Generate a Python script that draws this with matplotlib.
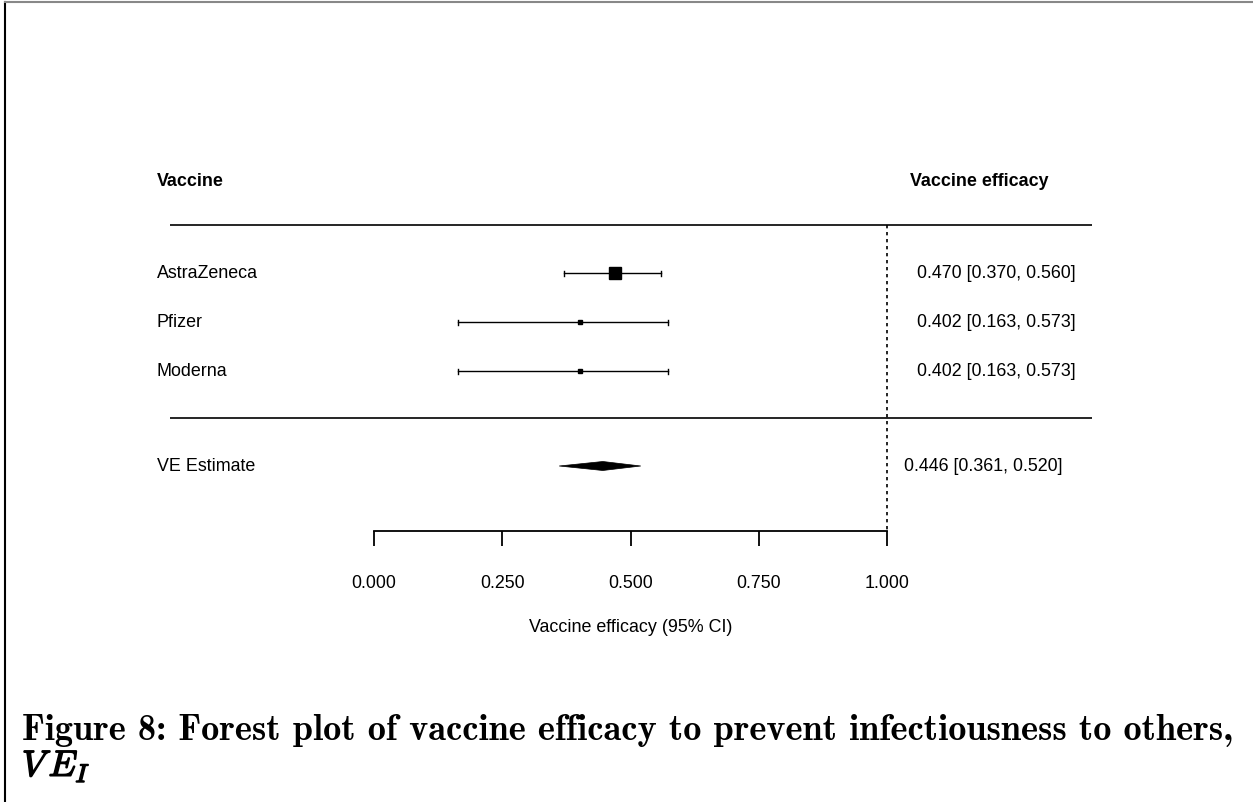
import matplotlib
matplotlib.use("Agg")
import matplotlib.pyplot as plt
from matplotlib.lines import Line2D
from matplotlib.patches import Polygon
import matplotlib.patheffects as pe

# ---- data ----
vaccines = ["AstraZeneca", "Pfizer", "Moderna"]
estimates = [0.470, 0.402, 0.402]
ci_low = [0.370, 0.163, 0.163]
ci_high = [0.560, 0.573, 0.573]
marker_sizes = [8.6, 3.0, 3.0]
pooled_label = "VE Estimate"
pooled_est = 0.446
pooled_low = 0.361
pooled_high = 0.520
tick_values = [0.0, 0.25, 0.5, 0.75, 1.0]
header_left = "Vaccine"
header_right = "Vaccine efficacy"
xlabel = "Vaccine efficacy (95% CI)"
caption1 = "Figure 8: Forest plot of vaccine efficacy to prevent infectiousness to others,"

W, H = 1253, 803
fig = plt.figure(figsize=(W / 100, H / 100), dpi=100)
ax = fig.add_axes([0, 0, 1, 1])

# x scale: 0 -> 374 px, 1 -> 887 px
px0, px1 = 374.0, 887.0
ppu = px1 - px0
ax.set_xlim(-px0 / ppu, (W - px0) / ppu)
ax.set_ylim(H, 0)

def X(px):
    return (px - px0) / ppu

FONT = "Liberation Sans"
FS = 12.9

row_y = [274, 323, 372]
y_pool = 467
y_head = 181
y_line1, y_line2 = 226, 419
y_axis = 532

# header
ax.text(X(157), y_head, header_left, fontsize=FS, fontweight="bold", family=FONT,
        ha="left", va="center")
ax.text(X(979), y_head, header_right, fontsize=FS, fontweight="bold", family=FONT,
        ha="center", va="center")

# separator lines
for yl in (y_line1, y_line2):
    ax.plot([X(170), X(1092)], [yl, yl], color="black", lw=1.2, solid_capstyle="butt")

# reference dotted line at 1
ax.plot([1.0, 1.0], [y_line1, y_axis], color="black", lw=1.2, linestyle=(0, (2, 2.2)))

# studies
for name, e, lo, hi, ms, y in zip(vaccines, estimates, ci_low, ci_high, marker_sizes, row_y):
    ax.plot([lo, hi], [y, y], color="black", lw=1.0)
    for xe in (lo, hi):
        ax.plot([xe, xe], [y - 2.5, y + 2.5], color="black", lw=1.0)
    ax.plot([e], [y], marker="s", ms=ms, color="black", mec="black")
    ax.text(X(157), y, name, fontsize=FS, family=FONT, ha="left", va="center")
    ax.text(X(1076), y, f"{e:.3f} [{lo:.3f}, {hi:.3f}]", fontsize=FS, family=FONT,
            ha="right", va="center")

# pooled diamond
diamond = Polygon([[pooled_low, y_pool], [pooled_est, y_pool - 4.5],
                   [pooled_high, y_pool], [pooled_est, y_pool + 4.5]],
                  closed=True, facecolor="black", edgecolor="black", lw=0.5)
ax.add_patch(diamond)
ax.text(X(157), y_pool, pooled_label, fontsize=FS, family=FONT, ha="left", va="center")
ax.text(X(1062), y_pool,
        f"{pooled_est:.3f} [{pooled_low:.3f}, {pooled_high:.3f}]",
        fontsize=FS, family=FONT, ha="right", va="center")

# x axis
for s in ("top", "left", "right"):
    ax.spines[s].set_visible(False)
ax.spines["bottom"].set_position(("data", y_axis))
ax.spines["bottom"].set_bounds(0, 1)
ax.spines["bottom"].set_linewidth(1.3)
ax.set_xticks(tick_values)
ax.set_xticklabels([f"{t:.3f}" for t in tick_values], family=FONT, fontsize=FS)
ax.tick_params(axis="x", direction="out", length=11, width=1.3, pad=20)
ax.set_yticks([])
ax.text(0.5, 628, xlabel, fontsize=FS, family=FONT, ha="center", va="center")

# figure frame lines
fig.add_artist(Line2D([5 / W, 5 / W], [0, 1 - 3 / H], color="black", lw=1.5,
                      transform=fig.transFigure))
fig.add_artist(Line2D([5 / W, 1], [1 - 3 / H, 1 - 3 / H], color="#888888", lw=1.5,
                      transform=fig.transFigure))

# caption
plt.rcParams["mathtext.fontset"] = "cm"
cap = fig.text(22 / W, 1 - 740 / H, caption1, family="cmb10", fontsize=22,
               ha="left", va="baseline")
fig.canvas.draw()
r = fig.canvas.get_renderer()
wpx = cap.get_window_extent(r).width
csize = 22 * (1210 / wpx)
cap.set_fontsize(csize)
fig.text(22 / W, 1 - 777 / H, r"$V\,E_I$", fontsize=csize, ha="left", va="baseline",
         path_effects=[pe.withStroke(linewidth=1.1, foreground="black")])

fig.savefig("out.png", dpi=100, facecolor="white")
